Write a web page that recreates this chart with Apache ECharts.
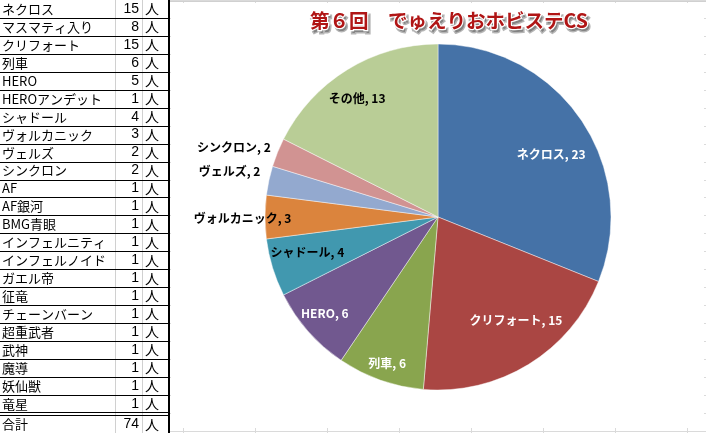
<!DOCTYPE html>
<html>
<head>
<meta charset="utf-8">
<script src="https://cdn.jsdelivr.net/npm/echarts@6/dist/echarts.min.js"></script>
<style>
html,body{margin:0;padding:0;background:#fff;}
#c{width:706px;height:433px;}
</style>
</head>
<body>
<div id="c"></div>
<script>
// ---- data ----
const tableNames = ['ネクロス','マスマティ入り','クリフォート','列車','HERO','HEROアンデット','シャドール','ヴォルカニック','ヴェルズ','シンクロン','AF','AF銀河','BMG青眼','インフェルニティ','インフェルノイド','ガエル帝','征竜','チェーンバーン','超重武者','武神','魔導','妖仙獣','竜星'];
const tableCounts = [15,8,15,6,5,1,4,3,2,2,1,1,1,1,1,1,1,1,1,1,1,1,1];
const totalLabel = '合計';
const totalCount = 74;
const unitLabel = '人';

const pieNames = ['ネクロス','クリフォート','列車','HERO','シャドール','ヴォルカニック','ヴェルズ','シンクロン','その他'];
const pieValues = [23,15,6,6,4,3,2,2,13];
const titleText = '第６回　でゅえりおホビステCS';

// ---- styles ----
const pieColors = ['#4572A7','#AA4643','#89A54E','#71588F','#4198AF','#DB843D','#93A9CF','#D19392','#B9CD96'];
const labelColors = ['#fff','#fff','#fff','#fff','#000','#000','#000','#000','#000'];
const labelShift = [[39,-12],[31,27],[-21,62],[-46,37],[-45,9],[-106,1],[-121,-27],[-121,-36],[-34,-42]];
const rowH = 17.95;
const FONT = '"Noto Sans CJK JP", "Noto Sans", sans-serif';

const g = [];
// sheet gridlines on the right (behind chart area)
for (let k = 0; k < 8; k++) {
  const x = 183.5 + 72 * k;
  g.push({type:'line', shape:{x1:x,y1:0,x2:x,y2:433}, style:{stroke:'#dadada',lineWidth:1}, silent:true});
}
for (let k = 0; k <= 24; k++) {
  const y = Math.round(k * rowH) + 0.5;
  g.push({type:'line', shape:{x1:170,y1:y,x2:706,y2:y}, style:{stroke:'#dadada',lineWidth:1}, silent:true});
}
g.push({type:'line', shape:{x1:170,y1:1.5,x2:706,y2:1.5}, style:{stroke:'#d0d0d0',lineWidth:1}, silent:true});
// chart area
g.push({type:'rect', shape:{x:171,y:3,width:533,height:425}, style:{fill:'#fff'}, silent:true});

// table
g.push({type:'line', shape:{x1:115.5,y1:0,x2:115.5,y2:433}, style:{stroke:'#d0d0d0',lineWidth:1}, silent:true});
g.push({type:'line', shape:{x1:142.5,y1:0,x2:142.5,y2:433}, style:{stroke:'#d0d0d0',lineWidth:1}, silent:true});
const allNames = tableNames.concat([totalLabel]);
const allCounts = tableCounts.concat([totalCount]);
allNames.forEach((n, i) => {
  const yc = i * rowH + rowH / 2 + (i === tableNames.length ? 2.5 : 0);
  g.push({type:'text', x:2, y:yc, style:{text:n, fill:'#000', font:'13px ' + FONT, textAlign:'left', textVerticalAlign:'middle'}, silent:true});
  g.push({type:'text', x:139, y:yc, style:{text:String(allCounts[i]), fill:'#000', font:'14px "Liberation Sans", Arial, sans-serif', textAlign:'right', textVerticalAlign:'middle'}, silent:true});
  g.push({type:'text', x:145, y:yc, style:{text:unitLabel, fill:'#000', font:'14px ' + FONT, textAlign:'left', textVerticalAlign:'middle'}, silent:true});
});
for (let k = 1; k < tableNames.length; k++) {
  const y = Math.round(k * rowH) + 0.5;
  g.push({type:'line', shape:{x1:0,y1:y,x2:168,y2:y}, style:{stroke:'#000',lineWidth:1}, silent:true});
}
const yd = Math.round(tableNames.length * rowH);
g.push({type:'line', shape:{x1:0,y1:yd-0.5,x2:168,y2:yd-0.5}, style:{stroke:'#000',lineWidth:1}, silent:true});
g.push({type:'line', shape:{x1:0,y1:yd+2.5,x2:168,y2:yd+2.5}, style:{stroke:'#000',lineWidth:1}, silent:true});
g.push({type:'line', shape:{x1:169,y1:0,x2:169,y2:433}, style:{stroke:'#000',lineWidth:2}, silent:true});

// title (shadow layer + white outline + red face)
const titleFont = 'bold 19.5px ' + FONT;
g.push({type:'text', x:451, y:24, z:9, style:{text:titleText, fill:'rgba(90,90,90,0.55)', font:titleFont, textAlign:'center', textVerticalAlign:'middle', stroke:'rgba(90,90,90,0.45)', lineWidth:3}, silent:true});
g.push({type:'text', x:449, y:21, z:10, style:{text:titleText, fill:'#B01515', font:titleFont, textAlign:'center', textVerticalAlign:'middle', stroke:'#fff', lineWidth:2.5}, silent:true});

const chart = echarts.init(document.getElementById('c'));
chart.setOption({
  animation:false,
  backgroundColor:'#fff',
  graphic: g,
  series:[{
    type:'pie',
    center:[438,217],
    radius:173,
    startAngle:90,
    clockwise:true,
    avoidLabelOverlap:false,
    z:5,
    itemStyle:{borderColor:'rgba(255,255,255,0.55)', borderWidth:0.8},
    label:{show:true, position:'inside', formatter:'{b}, {c}', fontFamily:FONT, fontWeight:'bold', fontSize:12},
    labelLine:{show:false},
    labelLayout:function(p){ const s = labelShift[p.dataIndex]; return {dx:s[0], dy:s[1]}; },
    emphasis:{disabled:true},
    data: pieNames.map((n, i) => ({name:n, value:pieValues[i], itemStyle:{color:pieColors[i]}, label:{color:labelColors[i]}}))
  }]
});
</script>
</body>
</html>
